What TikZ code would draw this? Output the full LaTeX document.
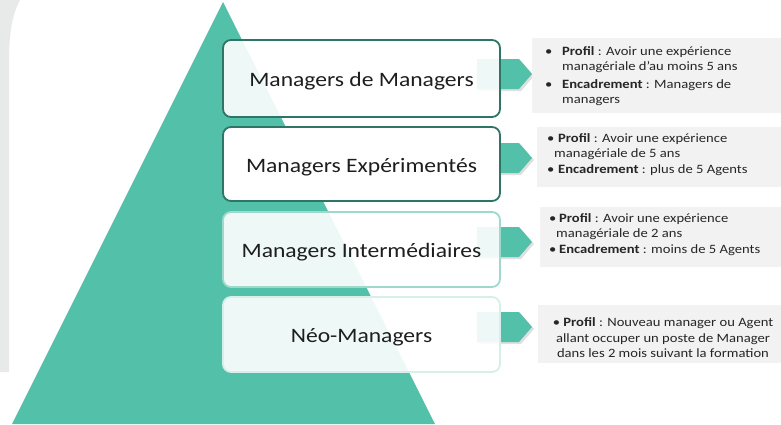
\documentclass[tikz,border=0pt]{standalone}
\usepackage{fontspec}
\setmainfont{Carlito}[FakeStretch=1.15]
\definecolor{teal1}{HTML}{53C0A9}
\definecolor{darkb}{HTML}{2F7565}
\definecolor{midb}{HTML}{9ED9CB}
\definecolor{lightb}{HTML}{D6EFE9}
\definecolor{tbgray}{HTML}{F2F2F2}
\definecolor{leftgray}{HTML}{E8EAEA}
\definecolor{txt}{HTML}{1E1E1E}
\definecolor{stxt}{HTML}{262626}
\tikzset{
  mbox/.style={rounded corners=8pt, minimum width=277pt, line width=1.8pt,
    text=txt, font=\fontsize{20.5}{24}\selectfont, inner sep=0pt, text opacity=1},
  chev/.style={fill=teal1},
  chevshadow/.style={fill=black!25, opacity=0.5},
  tline/.style={anchor=base west, inner sep=0pt, text=stxt, font=\fontsize{12.7}{15}\selectfont},
  cline/.style={anchor=base, inner sep=0pt, text=stxt, font=\fontsize{12.7}{15}\selectfont},
}
\newcommand{\bul}{\makebox[17pt][l]{•}}
\newcommand{\bulc}{• }
\newcommand{\lbl}[1]{\raisebox{-3pt}[\height][\depth]{#1}}
\begin{document}
\begin{tikzpicture}[x=1pt,y=-1pt]
\useasboundingbox (0,0) rectangle (781,424);
% left gray band
\fill[leftgray] (0,0) -- (20,0) .. controls (12,15) and (9,35) .. (9,60) -- (9,372) -- (0,372) -- cycle;
% pyramid
\fill[teal1] (223,2) -- (435,424) -- (12,424) -- cycle;
% chevrons (behind boxes)
\foreach \yc in {74,158,242,327}{
  \fill[chevshadow] (479,\yc-13) -- (521,\yc-13) -- (534,\yc+2) -- (521,\yc+17) -- (479,\yc+17) -- cycle;
  \fill[chev] (477,\yc-15) -- (519,\yc-15) -- (532,\yc) -- (519,\yc+15) -- (477,\yc+15) -- cycle;
}
% boxes
\node[mbox, draw=darkb, fill=white, fill opacity=0.9, minimum height=77pt] (b1) at (361.5,78.5) {\lbl{Managers de Managers}};
\node[mbox, draw=darkb, fill=white, minimum height=74pt] (b2) at (361.5,164) {\lbl{Managers Expérimentés}};
\node[mbox, draw=midb, fill=white, fill opacity=0.9, minimum height=75pt] (b3) at (361.5,249.5) {\lbl{Managers Intermédiaires}};
\node[mbox, draw=lightb, fill=white, fill opacity=0.9, minimum height=75pt] (b4) at (361.5,334.5) {\lbl{Néo-Managers}};
% gray text boxes
\fill[tbgray] (532,38) rectangle (781,113);
\fill[tbgray] (537,127) rectangle (781,187);
\fill[tbgray] (540,207) rectangle (781,267);
\fill[tbgray] (538,305) rectangle (781,363);
% text box 1
\node[tline] (t1a) at (545,55) {\bul\textbf{Profil} : Avoir une expérience};
\node[tline] (t1b) at (545,70) {\hspace*{17pt}managériale d’au moins 5 ans};
\node[tline] (t1c) at (545,88) {\bul\textbf{Encadrement}  : Managers de};
\node[tline] (t1d) at (545,103) {\hspace*{17pt}managers};
% text box 2
\node[tline] (t2a) at (547,142) {\makebox[11pt][l]{•}\textbf{Profil} : Avoir une expérience};
\node[tline] (t2b) at (554,157) {managériale de 5 ans};
\node[tline] (t2c) at (547,173) {\makebox[11pt][l]{•}\textbf{Encadrement} : plus de 5 Agents};
% text box 3
\node[tline] (t3a) at (549,222) {\makebox[10pt][l]{•}\textbf{Profil} : Avoir une expérience};
\node[tline] (t3b) at (556,237) {managériale de 2 ans};
\node[tline] (t3c) at (549,253) {\makebox[10pt][l]{•}\textbf{Encadrement} : moins de 5 Agents};
% text box 4
\node[cline] (t4a) at (663,326) {\bulc\textbf{Profil} : Nouveau manager ou Agent};
\node[cline] (t4b) at (663,342) {allant occuper un poste de Manager};
\node[cline] (t4c) at (663,357) {dans les 2 mois suivant la formation};
\end{tikzpicture}
\end{document}
